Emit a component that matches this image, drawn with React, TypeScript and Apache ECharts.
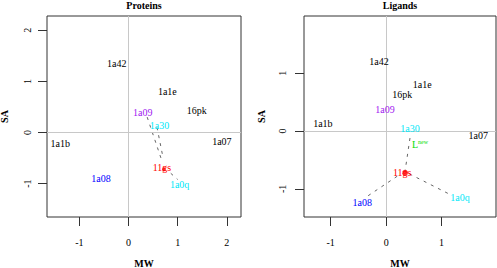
import React, { useEffect, useRef } from "react";
import * as echarts from "echarts";

const names = ["1a42", "1a1e", "1a09", "16pk", "1a30", "1a1b", "1a07", "11gs", "1a08", "1a0q"];
const colors = ["#000000", "#000000", "#A020F0", "#000000", "#00E8F8", "#000000", "#000000", "#FF0000", "#0000FF", "#00E8F8"];
const proteinMW = [-0.24, 0.79, 0.29, 1.39, 0.63, -1.39, 1.9, 0.68, -0.56, 1.04];
const proteinSA = [1.35, 0.81, 0.4, 0.43, 0.14, -0.21, -0.18, -0.69, -0.91, -1.01];
const ligandMW = [-0.13, 0.65, -0.02, 0.29, 0.43, -1.14, 1.66, 0.29, -0.43, 1.33];
const ligandSA = [1.21, 0.8, 0.38, 0.64, 0.05, 0.14, -0.07, -0.71, -1.23, -1.14];
const newLigand = [0.61, -0.24];
const proteinTicksX = [-1, 0, 1, 2];
const proteinTicksY = [-1, 0, 1, 2];
const ligandTicksX = [-1, 0, 1];
const ligandTicksY = [-1, 0, 1];
const proteinSegments = [
  [[0.38, 0.3], [0.66, -0.5]],
  [[0.58, 0.1], [0.7, -0.48]],
  [[0.86, -0.8], [1.0, -0.92]],
];
const ligandSegments = [
  [[0.43, -0.12], [0.34, -0.7]],
  [[0.2, -0.78], [-0.36, -1.14]],
  [[0.42, -0.74], [1.12, -1.08]],
];
const proteinDot = [0.72, -0.72];
const ligandDot = [0.34, -0.72];

const FONT = "Liberation Serif";

function axisX(gridIndex: number, min: number, max: number, ticks: number[]) {
  return {
    type: "value",
    gridIndex,
    min,
    max,
    name: "MW",
    nameLocation: "middle",
    nameGap: 41,
    nameTextStyle: { fontFamily: FONT, fontSize: 10, fontWeight: "bold", color: "#000" },
    axisLine: { show: false, onZero: false },
    axisTick: { show: true, length: 9, customValues: ticks, lineStyle: { color: "#333" } },
    axisLabel: { customValues: ticks, margin: 20, fontFamily: FONT, fontSize: 10, color: "#000" },
    splitLine: { show: false },
  };
}

function axisY(gridIndex: number, min: number, max: number, ticks: number[], margin: number, gap: number) {
  return {
    type: "value",
    gridIndex,
    min,
    max,
    name: "SA",
    nameLocation: "middle",
    nameGap: gap,
    nameRotate: 90,
    nameTextStyle: { fontFamily: FONT, fontSize: 10, fontWeight: "bold", color: "#000" },
    axisLine: { show: false, onZero: false },
    axisTick: { show: true, length: 9, customValues: ticks, lineStyle: { color: "#333" } },
    axisLabel: { customValues: ticks, margin, rotate: 90, fontFamily: FONT, fontSize: 10, color: "#000" },
    splitLine: { show: false },
  };
}

function labelSeries(idx: number, mw: number[], sa: number[], extra: any[] = []) {
  const data = mw.map((x, i) => ({
    value: [x, sa[i]],
    name: names[i],
    label: { color: colors[i], fontFamily: FONT },
  }));
  return {
    type: "scatter",
    xAxisIndex: idx,
    yAxisIndex: idx,
    symbolSize: 1,
    itemStyle: { color: "#ffffff", opacity: 1 },
    label: {
      show: true,
      position: "inside",
      formatter: "{b}",
      fontFamily: FONT,
      fontSize: 10,
      textBorderWidth: 0,
      opacity: 1,
    },
    emphasis: { disabled: true },
    data: [...data, ...extra],
    z: 5,
  };
}

function segSeries(idx: number, segs: number[][][]) {
  return segs.map((s) => ({
    type: "line",
    xAxisIndex: idx,
    yAxisIndex: idx,
    symbol: "none",
    lineStyle: { color: "#666", width: 1, type: [3, 5] },
    data: s,
    z: 3,
  }));
}

function zeroSeries(idx: number) {
  return {
    type: "scatter",
    xAxisIndex: idx,
    yAxisIndex: idx,
    data: [],
    markLine: {
      silent: true,
      symbol: "none",
      label: { show: false },
      lineStyle: { color: "#C8C8C8", width: 1, type: "solid" },
      data: [{ xAxis: 0 }, { yAxis: 0 }],
    },
    z: 1,
  };
}

export default function App() {
  const ref = useRef<HTMLDivElement>(null);
  useEffect(() => {
    if (!ref.current) return;
    const chart = echarts.init(ref.current, null, { renderer: "svg" });
    chart.setOption({
      animation: false,
      backgroundColor: "#fff",
      grid: [
        { left: 47, top: 16, width: 194, height: 201, show: true, borderColor: "#333", borderWidth: 1, backgroundColor: "transparent", containLabel: false, outerBoundsMode: "none" },
        { left: 304, top: 16, width: 192, height: 201, show: true, borderColor: "#333", borderWidth: 1, backgroundColor: "transparent", containLabel: false, outerBoundsMode: "none" },
      ],
      xAxis: [axisX(0, -1.66, 2.29, proteinTicksX), axisX(1, -1.48, 1.98, ligandTicksX)],
      yAxis: [axisY(0, -1.655, 2.28, proteinTicksY, 15, 38), axisY(1, -1.485, 1.99, ligandTicksY, 17, 38)],
      graphic: [
        { type: "text", x: 144, y: 0, style: { text: "Proteins", fontFamily: FONT, fontSize: 10, fontWeight: "bold", fill: "#000", align: "center", verticalAlign: "top" } },
        { type: "text", x: 400, y: 0, style: { text: "Ligands", fontFamily: FONT, fontSize: 10, fontWeight: "bold", fill: "#000", align: "center", verticalAlign: "top" } },
      ],
      series: [
        zeroSeries(0),
        zeroSeries(1),
        ...segSeries(0, proteinSegments),
        ...segSeries(1, ligandSegments),
        { type: "scatter", xAxisIndex: 0, yAxisIndex: 0, symbolSize: 4, itemStyle: { color: "#FF0000" }, data: [proteinDot], z: 4 },
        { type: "scatter", xAxisIndex: 1, yAxisIndex: 1, symbolSize: 6, itemStyle: { color: "#FF0000" }, data: [ligandDot], z: 4 },
        labelSeries(0, proteinMW, proteinSA),
        labelSeries(1, ligandMW, ligandSA, [
          {
            value: newLigand,
            name: "Lnew",
            label: {
              formatter: "{base|L}{sup|new}",
              rich: {
                sup: { fontFamily: FONT, fontSize: 6, color: "#00DD00", padding: [0, 0, 6, 0] },
                base: { fontFamily: FONT, fontSize: 10, color: "#00DD00" },
              },
            },
          },
        ]),
      ],
    });
    return () => chart.dispose();
  }, []);
  return <div ref={ref} style={{ position: "fixed", left: 0, top: 0, width: 497, height: 268 }} />;
}
